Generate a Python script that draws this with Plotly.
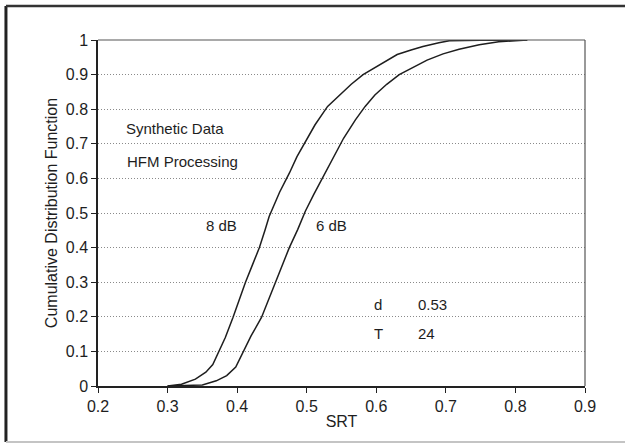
import plotly.graph_objects as go

# Data
srt_8db = [0.300, 0.320, 0.340, 0.355, 0.365, 0.373, 0.383, 0.394, 0.403, 0.412, 0.422,
           0.432, 0.440, 0.446, 0.461, 0.475, 0.486, 0.498, 0.512, 0.530, 0.547, 0.564,
           0.581, 0.600, 0.615, 0.630, 0.650, 0.667, 0.690, 0.705, 0.750, 0.817]
cdf_8db = [0.000, 0.005, 0.020, 0.040, 0.062, 0.096, 0.140, 0.198, 0.250, 0.300, 0.350,
           0.400, 0.450, 0.490, 0.560, 0.615, 0.663, 0.707, 0.755, 0.808, 0.840, 0.872,
           0.900, 0.922, 0.940, 0.958, 0.971, 0.981, 0.992, 0.998, 0.999, 1.000]

srt_6db = [0.300, 0.350, 0.370, 0.385, 0.398, 0.408, 0.420, 0.435, 0.445, 0.455, 0.465,
           0.475, 0.487, 0.498, 0.510, 0.524, 0.538, 0.553, 0.570, 0.584, 0.598, 0.615,
           0.633, 0.650, 0.673, 0.696, 0.719, 0.748, 0.776, 0.800, 0.817]
cdf_6db = [0.000, 0.003, 0.015, 0.030, 0.055, 0.096, 0.145, 0.198, 0.250, 0.300, 0.350,
           0.400, 0.452, 0.505, 0.553, 0.606, 0.663, 0.716, 0.769, 0.808, 0.841, 0.872,
           0.900, 0.918, 0.942, 0.960, 0.973, 0.986, 0.995, 0.998, 1.000]

x_ticks = [0.2, 0.3, 0.4, 0.5, 0.6, 0.7, 0.8, 0.9]
x_tick_labels = ["0.2", "0.3", "0.4", "0.5", "0.6", "0.7", "0.8", "0.9"]
y_ticks = [0, 0.1, 0.2, 0.3, 0.4, 0.5, 0.6, 0.7, 0.8, 0.9, 1.0]
y_tick_labels = ["0", "0.1", "0.2", "0.3", "0.4", "0.5", "0.6", "0.7", "0.8", "0.9", "1"]

curve_labels = ["8 dB", "6 dB"]
info_labels = ["Synthetic Data", "HFM Processing"]
param_names = ["d", "T"]
param_values = ["0.53", "24"]

FONT = "Liberation Sans, Arial, Helvetica, sans-serif"
INK = "#1e1e1e"

fig = go.Figure()
fig.add_trace(go.Scatter(x=srt_8db, y=cdf_8db, mode="lines", name=curve_labels[0],
                         line=dict(color=INK, width=1.5), showlegend=False))
fig.add_trace(go.Scatter(x=srt_6db, y=cdf_6db, mode="lines", name=curve_labels[1],
                         line=dict(color=INK, width=1.5), showlegend=False))

ann = []
ann.append(dict(x=0.378, y=0.463, text=curve_labels[0], showarrow=False))
ann.append(dict(x=0.535, y=0.463, text=curve_labels[1], showarrow=False))
ann.append(dict(x=0.237, y=0.745, text=info_labels[0], showarrow=False, xanchor="left"))
ann.append(dict(x=0.239, y=0.649, text=info_labels[1], showarrow=False, xanchor="left"))
for i, (n, v) in enumerate(zip(param_names, param_values)):
    yy = [0.236, 0.151][i]
    ann.append(dict(x=0.603, y=yy, text=n, showarrow=False))
    ann.append(dict(x=0.657, y=yy, text=v, showarrow=False, xanchor="left"))
for a in ann:
    a.update(xref="x", yref="y", font=dict(size=15, color=INK, family=FONT))

shapes = [
    # outer frame of the figure
    dict(type="line", xref="paper", yref="paper", x0=-0.189, x1=-0.189, y0=-0.162, y1=1.098,
         line=dict(color="#222", width=3)),
    dict(type="line", xref="paper", yref="paper", x0=-0.189, x1=1.1, y0=1.098, y1=1.098,
         line=dict(color="#333", width=2.5)),
    dict(type="line", xref="paper", yref="paper", x0=-0.189, x1=1.1, y0=-0.162, y1=-0.162,
         line=dict(color="#c4c4c4", width=2)),
    # top and right borders of the plot area
    dict(type="line", xref="paper", yref="paper", x0=0, x1=1, y0=1, y1=1,
         line=dict(color="#555", width=1.2)),
    dict(type="line", xref="paper", yref="paper", x0=1, x1=1, y0=0, y1=1,
         line=dict(color="#555", width=1.2)),
]

fig.update_layout(
    width=625, height=445,
    margin=dict(l=98, r=40, t=40, b=59),
    paper_bgcolor="white", plot_bgcolor="white",
    font=dict(family=FONT, size=16, color=INK),
    annotations=ann, shapes=shapes,
    showlegend=False,
)
fig.update_xaxes(
    range=[0.2, 0.9], tickvals=x_ticks, ticktext=x_tick_labels,
    showgrid=False, zeroline=False,
    showline=True, linecolor="#222", linewidth=1.5,
    ticks="outside", ticklen=5, tickcolor="#222", tickwidth=1,
    tickfont=dict(size=16, family=FONT, color=INK),
    title=dict(text="SRT", font=dict(size=16, family=FONT, color=INK), standoff=2),
)
fig.update_yaxes(
    range=[0, 1], tickvals=y_ticks, ticktext=y_tick_labels,
    showgrid=True, gridcolor="#8a8a8a", gridwidth=1, griddash="1px,2px",
    zeroline=False,
    showline=True, linecolor="#222", linewidth=1.5,
    ticks="outside", ticklen=5, tickcolor="#222", tickwidth=1,
    tickfont=dict(size=16, family=FONT, color=INK),
    title=dict(text="Cumulative Distribution Function",
               font=dict(size=16, family=FONT, color=INK), standoff=4),
)

fig.write_html("out.html")
